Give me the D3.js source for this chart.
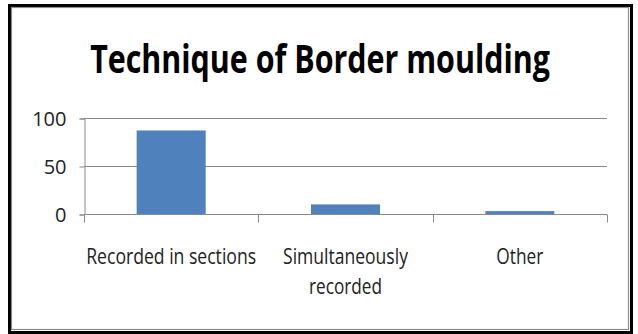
<!DOCTYPE html>
<html>
<head>
<meta charset="utf-8">
<script src="https://cdn.jsdelivr.net/npm/d3@7"></script>
<style>
  html, body { margin: 0; padding: 0; background: #fff; }
  svg { display: block; }
</style>
</head>
<body>
<svg id="chart" width="638" height="334"></svg>
<script>
// Data
const chartTitle = "Technique of Border moulding";
const categories = ["Recorded in sections", "Simultaneously\nrecorded", "Other"];
const values = [87, 10, 3];
const yTicks = [0, 50, 100];

const W = 638, H = 334;
const margin = { left: 84, right: 31, top: 118, bottom: 120 };
const plotW = W - margin.left - margin.right;   // 523
const plotH = H - margin.top - margin.bottom;   // 96

const svg = d3.select("#chart");
const FONT = "'Liberation Sans Narrow', 'Open Sans', 'Liberation Sans', sans-serif";
const BODY_FONT = "'Open Sans', 'Liberation Sans', sans-serif";

// Frame: dark outer rule with a thin grey inner rule
svg.append("rect").attr("x", 9.5).attr("y", 5.5).attr("width", 622).attr("height", 327)
  .attr("fill", "#fff").attr("stroke", "#000").attr("stroke-width", 3);
svg.append("rect").attr("x", 11.5).attr("y", 7.5).attr("width", 617).attr("height", 322)
  .attr("fill", "none").attr("stroke", "#8c8c8c").attr("stroke-width", 1.2);

// Centred text, horizontally squeezed (never stretched) to a maximum width
function squeezedText(parent, cx, cy, str, maxW, attrs) {
  const g = parent.append("g");
  const t = g.append("text").attr("text-anchor", "middle").text(str);
  Object.entries(attrs).forEach(([k, v]) => t.attr(k, v));
  const len = t.node().getComputedTextLength();
  const k = len > maxW ? maxW / len : 1;
  g.attr("transform", `translate(${cx},${cy}) scale(${k},1)`);
  return t;
}

// Title
squeezedText(svg, 320, 73, chartTitle, 460, {
  "font-family": FONT, "font-weight": "bold", "font-size": 40, "fill": "#000"
});

// Scales
const x = d3.scaleBand().domain(categories).range([margin.left, margin.left + plotW]).padding(0);
const y = d3.scaleLinear().domain([0, 100]).range([margin.top + plotH, margin.top]);

const g = svg.append("g");

// Horizontal gridlines
g.selectAll("line.grid").data(yTicks.filter(d => d !== 0)).join("line")
  .attr("class", "grid")
  .attr("x1", margin.left).attr("x2", margin.left + plotW)
  .attr("y1", d => Math.round(y(d)) + 0.5).attr("y2", d => Math.round(y(d)) + 0.5)
  .attr("stroke", "#8a8a8a").attr("stroke-width", 1);

// Bars
const barFrac = 0.396;
g.selectAll("rect.bar").data(values).join("rect")
  .attr("class", "bar")
  .attr("x", (d, i) => x(categories[i]) + x.bandwidth() * (1 - barFrac) / 2)
  .attr("width", x.bandwidth() * barFrac)
  .attr("y", d => y(d))
  .attr("height", d => y(0) - y(d))
  .attr("fill", "#4f81bd");

// Y axis
const yAxis = d3.axisLeft(y).tickValues(yTicks).tickSize(5).tickPadding(13);
const yg = svg.append("g").attr("transform", `translate(${margin.left + 0.5},0.5)`).call(yAxis);
yg.select(".domain").attr("stroke", "#8a8a8a");
yg.selectAll(".tick line").attr("stroke", "#8a8a8a");
yg.selectAll(".tick text")
  .attr("font-family", BODY_FONT).attr("font-size", 20).attr("fill", "#222")
  .attr("dy", "0.36em");

// X axis with ticks at category boundaries
const xg = svg.append("g").attr("transform", `translate(0,${Math.round(y(0)) + 0.5})`);
xg.append("line").attr("x1", margin.left).attr("x2", margin.left + plotW)
  .attr("stroke", "#8a8a8a");
const bounds = categories.map(c => x(c)).concat([margin.left + plotW]);
xg.selectAll("line.tk").data(bounds).join("line")
  .attr("class", "tk")
  .attr("x1", d => Math.round(d) + 0.5).attr("x2", d => Math.round(d) + 0.5)
  .attr("y1", 0).attr("y2", 8)
  .attr("stroke", "#8a8a8a");

// Category labels
const labelW = [170, 125, 47];
categories.forEach((c, i) => {
  c.split("\n").forEach((ln, j) => {
    squeezedText(svg, x(c) + x.bandwidth() / 2, 264 + j * 29.5, ln,
      j === 0 ? labelW[i] : 73,
      { "font-family": BODY_FONT, "font-size": 22, "fill": "#222" });
  });
});
</script>
</body>
</html>
